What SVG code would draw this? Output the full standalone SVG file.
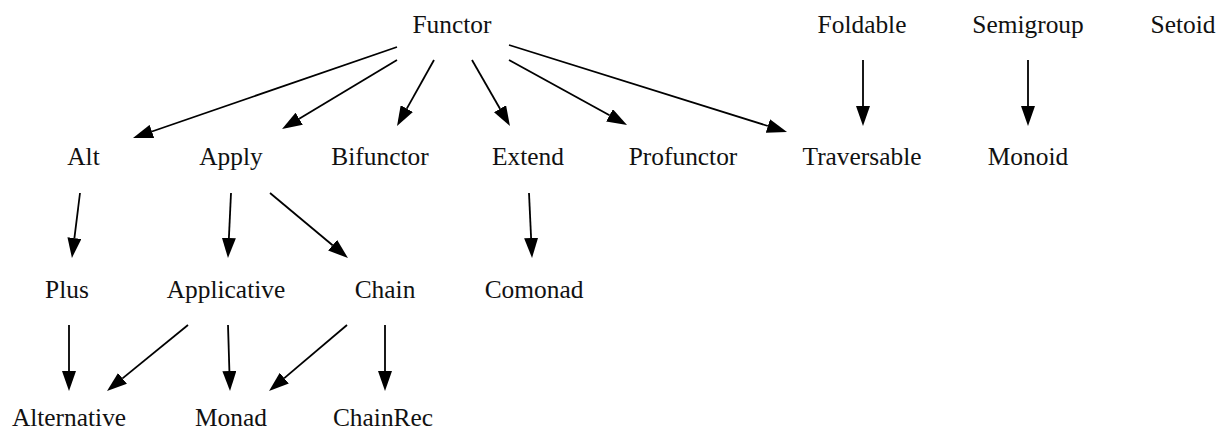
<svg xmlns="http://www.w3.org/2000/svg" width="1229" height="432" viewBox="0 0 1229 432">
<style>
  text { font-family: "Liberation Serif", "Times New Roman", serif; font-size: 25.4px; fill: #111; text-anchor: middle; }
  .edge { stroke: #000; stroke-width: 1.8; fill: none; marker-end: url(#arrow); }
</style>
<defs>
  <marker id="arrow" markerUnits="userSpaceOnUse" markerWidth="20" markerHeight="14" viewBox="0 0 20 14" refX="0" refY="7" orient="auto">
    <path d="M0,0 L20,7 L0,14 Z" fill="#000"/>
  </marker>
</defs>
<rect width="1229" height="432" fill="#fff"/>
<g id="connectors">
  <line class="edge" x1="397" y1="47" x2="151.9" y2="131.5"/>
  <line class="edge" x1="397" y1="60" x2="299.2" y2="118.7"/>
  <line class="edge" x1="434" y1="60" x2="406.8" y2="108.6"/>
  <line class="edge" x1="472" y1="60" x2="500.0" y2="108.7"/>
  <line class="edge" x1="509" y1="60" x2="609.5" y2="115.3"/>
  <line class="edge" x1="509" y1="45" x2="767.9" y2="126.0"/>
  <line class="edge" x1="863" y1="60" x2="863" y2="106"/>
  <line class="edge" x1="1028" y1="60" x2="1028" y2="106"/>
  <line class="edge" x1="80" y1="193" x2="74.4" y2="238.1"/>
  <line class="edge" x1="231" y1="193" x2="228.9" y2="238.0"/>
  <line class="edge" x1="270" y1="193" x2="332.6" y2="245.2"/>
  <line class="edge" x1="529" y1="193" x2="531.1" y2="238.0"/>
  <line class="edge" x1="69" y1="325" x2="69" y2="371"/>
  <line class="edge" x1="188" y1="325" x2="122.5" y2="378.4"/>
  <line class="edge" x1="228" y1="325" x2="229.4" y2="371.0"/>
  <line class="edge" x1="347" y1="325" x2="284.3" y2="378.1"/>
  <line class="edge" x1="385" y1="325" x2="385" y2="371"/>
</g>
<g id="Functor"><text x="452" y="33">Functor</text></g>
<g id="Foldable"><text x="862" y="33">Foldable</text></g>
<g id="Semigroup"><text x="1028" y="33">Semigroup</text></g>
<g id="Setoid"><text x="1183" y="33">Setoid</text></g>
<g id="Alt"><text x="83.5" y="165">Alt</text></g>
<g id="Apply"><text x="231" y="165">Apply</text></g>
<g id="Bifunctor"><text x="380" y="165">Bifunctor</text></g>
<g id="Extend"><text x="528" y="165">Extend</text></g>
<g id="Profunctor"><text x="683" y="165">Profunctor</text></g>
<g id="Traversable"><text x="862" y="165">Traversable</text></g>
<g id="Monoid"><text x="1028" y="165">Monoid</text></g>
<g id="Plus"><text x="67" y="298">Plus</text></g>
<g id="Applicative"><text x="226" y="298">Applicative</text></g>
<g id="Chain"><text x="385" y="298">Chain</text></g>
<g id="Comonad"><text x="534" y="298">Comonad</text></g>
<g id="Alternative"><text x="69" y="426">Alternative</text></g>
<g id="Monad"><text x="231" y="426">Monad</text></g>
<g id="ChainRec"><text x="383" y="426">ChainRec</text></g>
</svg>
